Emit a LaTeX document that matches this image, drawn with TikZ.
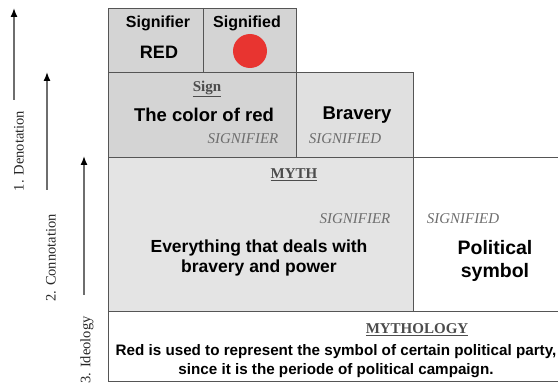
\documentclass[tikz,border=0pt]{standalone}
\usepackage{fontspec}
\setmainfont{Liberation Serif}
\setsansfont{Liberation Sans}
\usetikzlibrary{arrows.meta}
\definecolor{boxdark}{RGB}{212,212,212}
\definecolor{boxmid}{RGB}{224,224,224}
\definecolor{boxlight}{RGB}{228,228,228}
\definecolor{edge}{RGB}{85,85,85}
\definecolor{italgray}{RGB}{110,110,110}
\definecolor{arrowgray}{RGB}{110,110,110}
\definecolor{dotred}{RGB}{232,52,48}
\tikzset{
  cell/.style={draw=edge, line width=0.9pt},
  boldtxt/.style={font=\sffamily\bfseries\fontsize{18.5}{21}\selectfont, inner sep=0pt, align=center},
  smallbold/.style={font=\sffamily\bfseries\fontsize{16}{18}\selectfont, inner sep=0pt, align=center},
  italtxt/.style={font=\itshape\fontsize{15}{17}\selectfont, text=italgray, inner sep=0pt},
  headtxt/.style={font=\bfseries\fontsize{15}{17}\selectfont, text=black!70, inner sep=0pt},
  sidelbl/.style={font=\fontsize{14.5}{16}\selectfont, rotate=90, inner sep=0pt, text=black!85},
  uparrow/.style={draw=arrowgray, line width=1.4pt, -{Latex[length=9pt,width=7pt,color=black]}},
}
\newcommand{\ul}[1]{\underline{#1}}
\begin{document}
\begin{tikzpicture}[x=1pt,y=-1pt]
\useasboundingbox (0,0) rectangle (558,385);
\begin{scope}
\clip (0,0) rectangle (558,385);
% boxes
\path[fill=boxdark] (108,8) rectangle (296,72);
\path[fill=boxdark] (108,72) rectangle (296,157);
\path[fill=boxmid] (296,72) rectangle (413,157);
\path[fill=boxlight] (108,157) rectangle (413,311);
\draw[cell] (108,8) rectangle (296,72);
\draw[cell] (203,8) -- (203,72);
\draw[cell] (108,72) rectangle (296,157);
\draw[cell] (296,72) rectangle (413,157);
\draw[cell] (108,157) -- (570,157);
\draw[cell] (108,157) rectangle (413,311);
\draw[cell] (108,311) -- (570,311);
\draw[cell] (108,311) -- (108,381) -- (570,381);
\end{scope}
% top cells
\node[smallbold] (sfr) at (158,23) {Signifier};
\node[boldtxt, font=\sffamily\bfseries\fontsize{18}{20}\selectfont] (red) at (159,52) {RED};
\node[smallbold] (sfd) at (247,23) {Signified};
\node[circle, fill=dotred, minimum size=34pt, inner sep=0pt] (dot) at (250,51) {};
% sign row
\node[headtxt] (sign) at (207,89) {\ul{Sign}};
\node[boldtxt] (color) at (204,115) {The color of red};
\node[italtxt] (sig1) at (243,139) {SIGNIFIER};
\node[boldtxt] (brav) at (357,115) {Bravery};
\node[italtxt] (sid1) at (345,139) {SIGNIFIED};
% myth row
\node[headtxt] (myth) at (294,175) {\ul{MYTH}};
\node[italtxt] (sig2) at (355,219) {SIGNIFIER};
\node[boldtxt, font=\sffamily\bfseries\fontsize{17.5}{20.5}\selectfont] (every) at (259,258) {Everything that deals with\\bravery and power};
\node[italtxt] (sid2) at (463,219) {SIGNIFIED};
\node[boldtxt, font=\sffamily\bfseries\fontsize{19.5}{23}\selectfont] (pol) at (495,261) {Political\\symbol};
% mythology
\node[headtxt] (mythol) at (417,330) {\ul{MYTHOLOGY}};
\node[smallbold, font=\sffamily\bfseries\fontsize{15.2}{18.5}\selectfont] (mtext) at (336,361) {Red is used to represent the symbol of certain political party,\\since it is the periode of political campaign.};
% side arrows
\coordinate (a1s) at (14,100); \coordinate (a1e) at (14,8);
\coordinate (a2s) at (47,190); \coordinate (a2e) at (47,72);
\coordinate (a3s) at (84,295); \coordinate (a3e) at (84,156);
\draw[uparrow] (a1s) -- (a1e);
\draw[uparrow] (a2s) -- (a2e);
\draw[uparrow] (a3s) -- (a3e);
\node[sidelbl] (l1) at (19,151) {1. Denotation};
\node[sidelbl] (l2) at (51,258) {2. Connotation};
\node[sidelbl] (l3) at (87,350) {3. Ideology};
\end{tikzpicture}
\end{document}
